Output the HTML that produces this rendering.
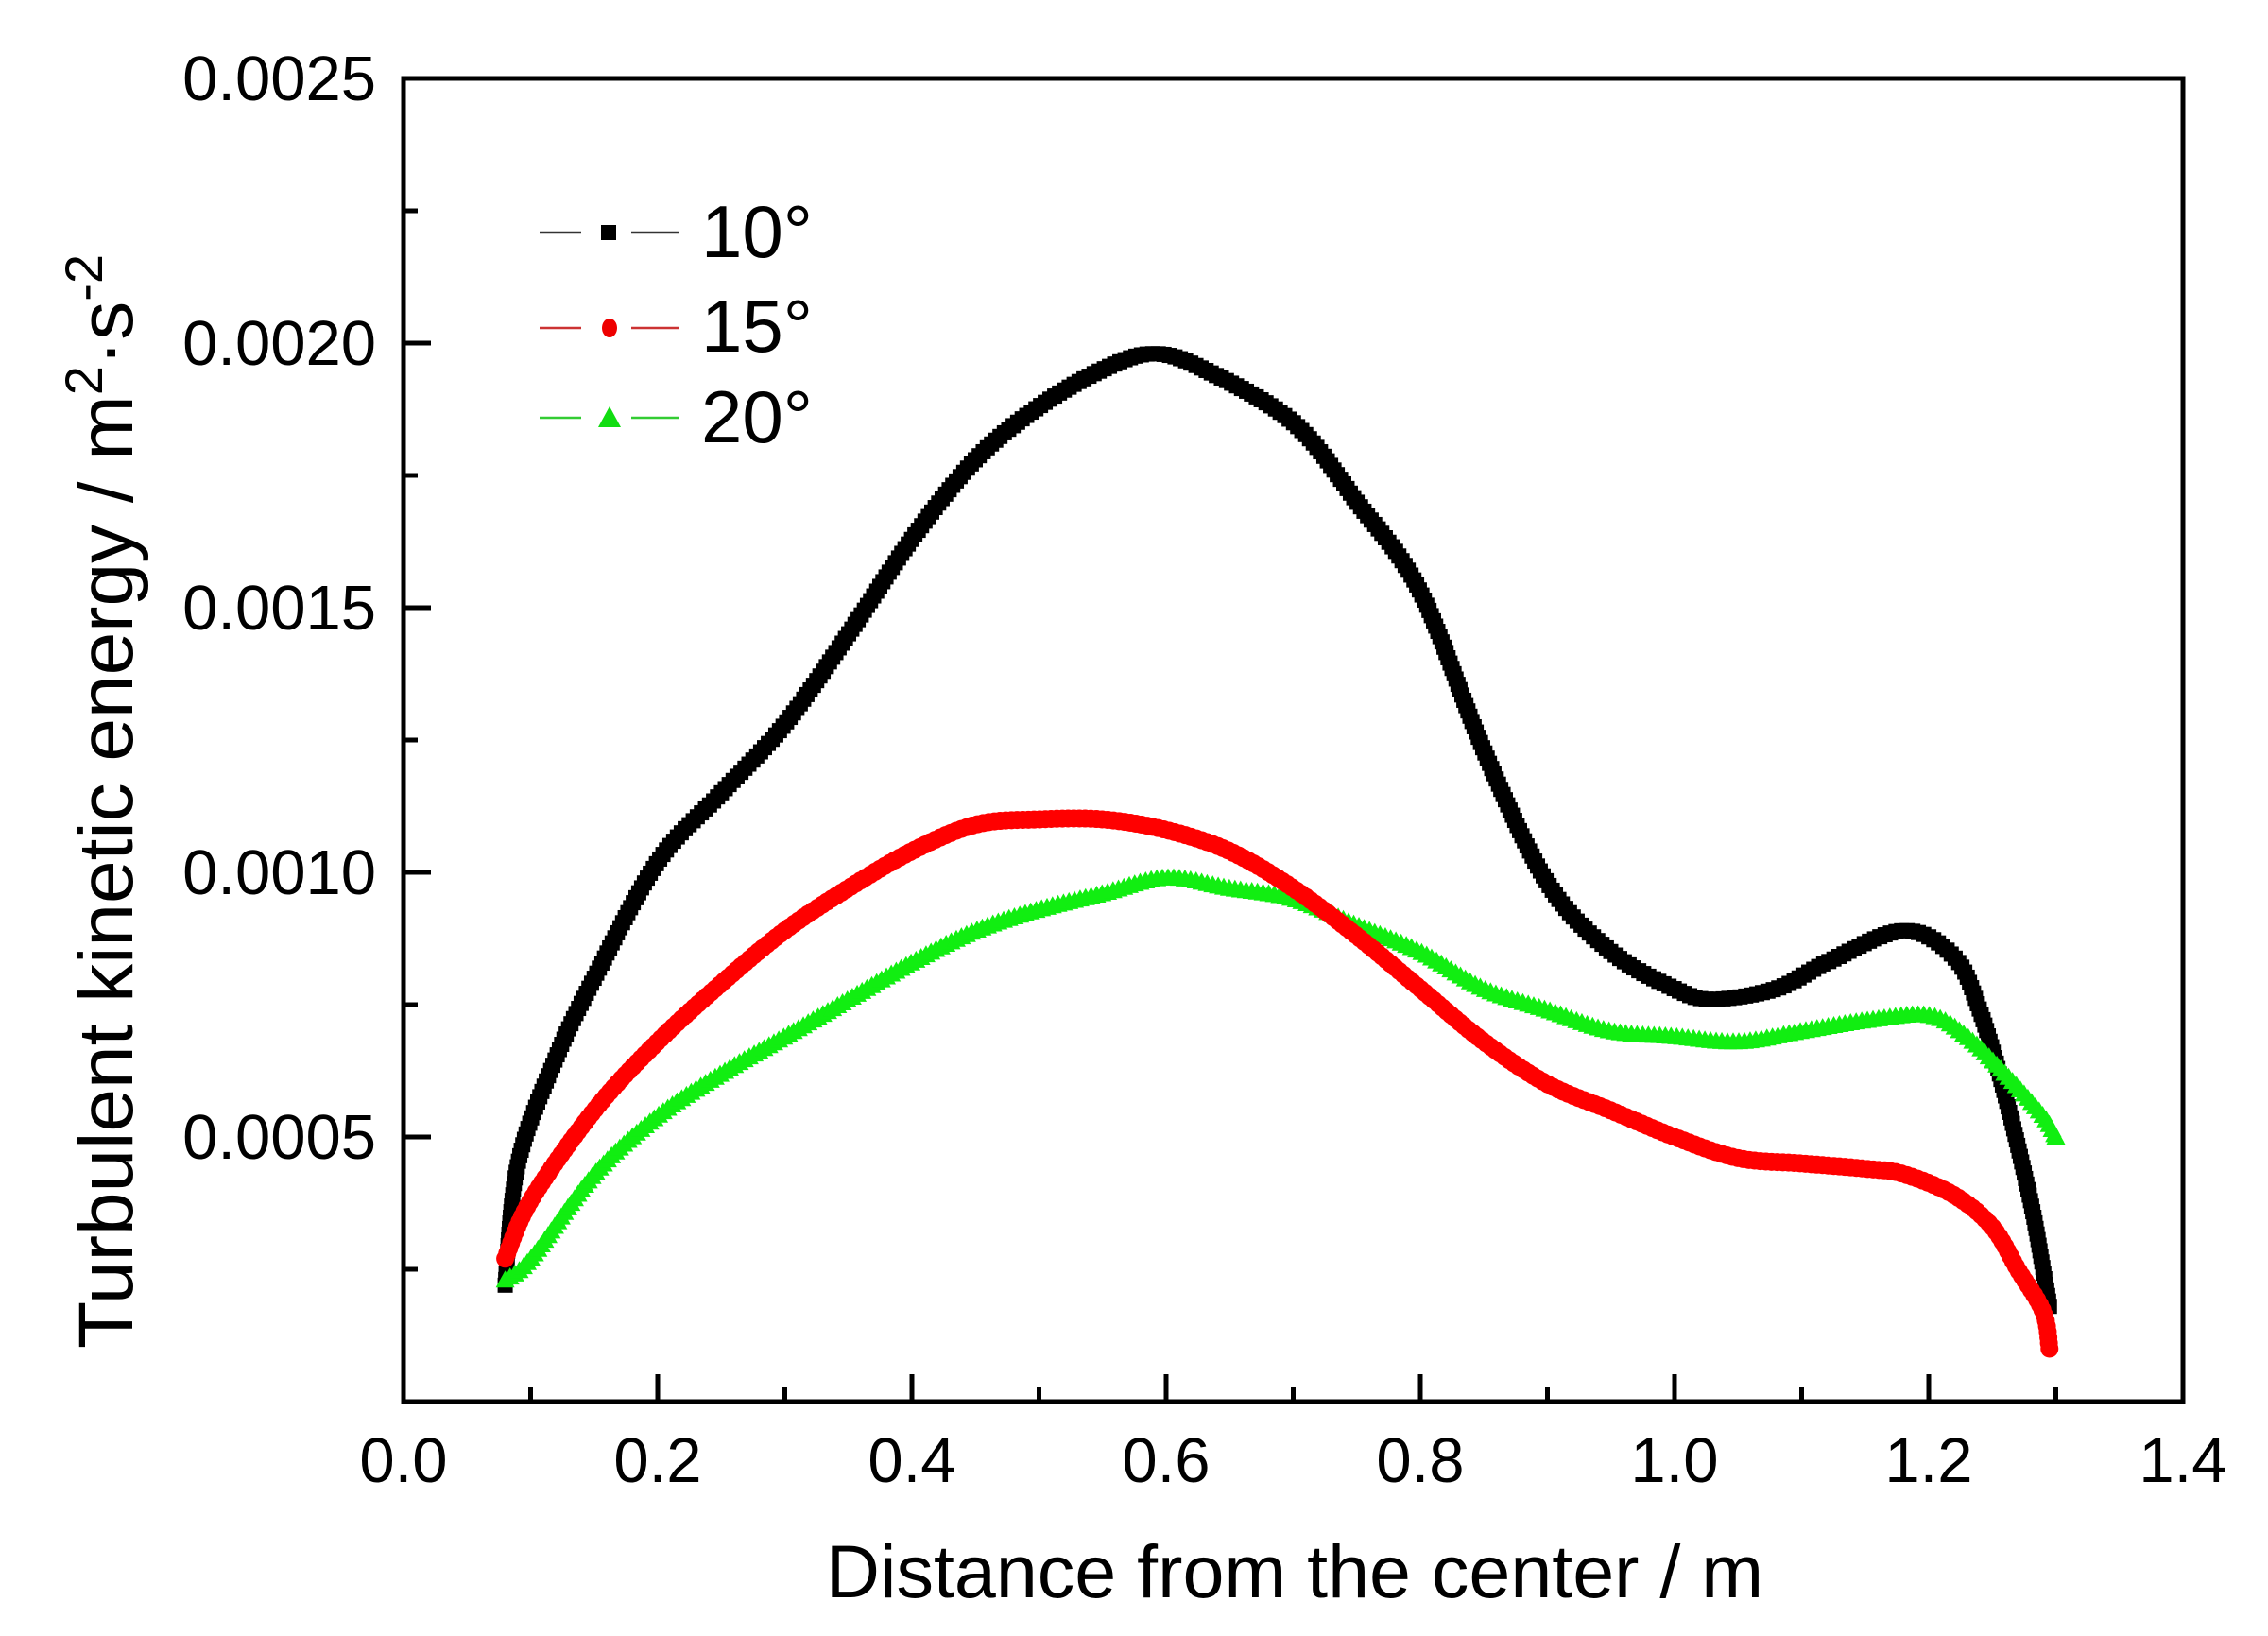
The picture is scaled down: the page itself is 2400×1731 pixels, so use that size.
<!DOCTYPE html>
<html><head><meta charset="utf-8">
<style>
html,body{margin:0;padding:0;background:#fff;}
svg{display:block;font-family:"Liberation Sans",Arial,sans-serif;}
</style></head>
<body>
<svg id="s" width="2400" height="1731" viewBox="0 0 2400 1731" xmlns="http://www.w3.org/2000/svg">
<rect width="2400" height="1731" fill="#fff"/>
<g id="data"></g>
<rect x="427" y="83" width="1883" height="1400" fill="none" stroke="#000" stroke-width="5"/>
<g id="ticks" stroke="#000" stroke-width="5"></g>
<g font-size="67" fill="#000" text-anchor="end">
<text x="398" y="106">0.0025</text>
<text x="398" y="386">0.0020</text>
<text x="398" y="666">0.0015</text>
<text x="398" y="946">0.0010</text>
<text x="398" y="1226">0.0005</text>
</g>
<g font-size="67" fill="#000" text-anchor="middle">
<text x="427" y="1568">0.0</text>
<text x="696" y="1568">0.2</text>
<text x="965" y="1568">0.4</text>
<text x="1234" y="1568">0.6</text>
<text x="1503" y="1568">0.8</text>
<text x="1772" y="1568">1.0</text>
<text x="2041" y="1568">1.2</text>
<text x="2310" y="1568">1.4</text>
</g>
<text x="1370" y="1690" font-size="79" text-anchor="middle">Distance from the center / m</text>
<text transform="translate(140,848) rotate(-90)" font-size="82" text-anchor="middle">Turbulent kinetic energy / m<tspan font-size="56" dy="-32">2</tspan><tspan dy="32">·s</tspan><tspan font-size="56" dy="-32">-2</tspan></text>
<g stroke-width="2.5">
<line x1="571" y1="246" x2="615" y2="246" stroke="#333"/><line x1="668" y1="246" x2="718" y2="246" stroke="#333"/>
<rect x="636" y="238" width="16" height="16" fill="#000"/>
<line x1="571" y1="347" x2="615" y2="347" stroke="#c33"/><line x1="668" y1="347" x2="718" y2="347" stroke="#c33"/>
<ellipse cx="645" cy="347" rx="8" ry="10" fill="#e00"/>
<line x1="571" y1="442" x2="615" y2="442" stroke="#3c3"/><line x1="668" y1="442" x2="718" y2="442" stroke="#3c3"/>
<polygon points="645,430 657,452 633,452" fill="#1d1"/>
</g>
<g font-size="78" fill="#000">
<text x="742" y="272">10°</text>
<text x="742" y="372">15°</text>
<text x="742" y="468">20°</text>
</g>
</svg>
<script>
var X=function(v){return 427+v/1.4*1883;}, Y=function(v){return 1483-v/0.0025*1400;};
var t=document.getElementById('ticks'),ns="http://www.w3.org/2000/svg";
function ln(x1,y1,x2,y2,p){var l=document.createElementNS(ns,'line');l.setAttribute('x1',x1);l.setAttribute('y1',y1);l.setAttribute('x2',x2);l.setAttribute('y2',y2);p.appendChild(l);}
for(var i=1;i<14;i++){var x=X(i*0.1);ln(x,1483,x,1483-(i%2?15:29),t);}
for(var j=1;j<10;j++){var y=Y(j*0.00025);ln(427,y,427+(j%2?15:29),y,t);}
var blk=[[0.08,0.00022],[0.09,0.00045],[0.12,0.00065],[0.15,0.0008],[0.2,0.00102],[0.25,0.00115],[0.3,0.00128],[0.35,0.00145],[0.4,0.00163],[0.45,0.00178],[0.5,0.00188],[0.55,0.00195],[0.59,0.00198],[0.63,0.00195],[0.7,0.00185],[0.75,0.0017],[0.8,0.00153],[0.85,0.00123],[0.9,0.00098],[0.95,0.00085],[1.0,0.00078],[1.03,0.00076],[1.08,0.00078],[1.12,0.00083],[1.18,0.00089],[1.22,0.00084],[1.24,0.00074],[1.26,0.00058],[1.28,0.00038],[1.29,0.00025],[1.295,0.00018]];
var red=[[0.08,0.00027],[0.1,0.00038],[0.15,0.00055],[0.2,0.00068],[0.25,0.00079],[0.3,0.00089],[0.35,0.00097],[0.4,0.00104],[0.45,0.00109],[0.5,0.0011],[0.55,0.0011],[0.6,0.00108],[0.65,0.00104],[0.7,0.00097],[0.75,0.00088],[0.8,0.00078],[0.85,0.00068],[0.9,0.0006],[0.95,0.00055],[1.0,0.0005],[1.05,0.00046],[1.1,0.00045],[1.15,0.00044],[1.18,0.00043],[1.22,0.00039],[1.25,0.00033],[1.27,0.00025],[1.29,0.00017],[1.295,0.0001]];
var grn=[[0.08,0.00023],[0.1,0.00027],[0.15,0.00043],[0.2,0.00054],[0.25,0.00062],[0.3,0.00069],[0.35,0.00076],[0.4,0.00083],[0.45,0.00089],[0.5,0.00093],[0.55,0.00096],[0.6,0.00099],[0.65,0.00097],[0.7,0.00095],[0.75,0.0009],[0.8,0.00085],[0.85,0.00078],[0.9,0.00074],[0.95,0.0007],[1.0,0.00069],[1.05,0.00068],[1.1,0.0007],[1.15,0.00072],[1.2,0.00073],[1.23,0.00069],[1.26,0.00062],[1.29,0.00054],[1.3,0.0005]];
var g=document.getElementById('data'),h='';
function smooth(p){var out=[];for(var k=0;k<p.length-1;k++){var p0=p[Math.max(0,k-1)],p1=p[k],p2=p[k+1],p3=p[Math.min(p.length-1,k+2)];
 for(var s=0;s<10;s++){var u=s/10,u2=u*u,u3=u2*u;var f=function(a,b,c,d){return 0.5*((2*b)+(-a+c)*u+(2*a-5*b+4*c-d)*u2+(-a+3*b-3*c+d)*u3);};
 out.push([f(p0[0],p1[0],p2[0],p3[0]),f(p0[1],p1[1],p2[1],p3[1])]);}}
 out.push(p[p.length-1]);return out;}
function mk(type,x,y){
 if(type==0)return '<rect x="'+(x-8)+'" y="'+(y-8)+'" width="16" height="16" fill="#000"/>';
 if(type==1)return '<circle cx="'+x+'" cy="'+y+'" r="9.5" fill="#f00"/>';
 return '<polygon points="'+x+','+(y-10)+' '+(x+10)+','+(y+8)+' '+(x-10)+','+(y+8)+'" fill="#1e1"/>';}
function draw(d,type,col){
 var raw=[];for(var k=0;k<d.length;k++)raw.push([X(d[k][0]),Y(d[k][1])]);
 var pts=smooth(raw);
 var s='M'+pts.map(function(p){return p[0].toFixed(1)+','+p[1].toFixed(1)}).join('L');
 h+='<path d="'+s+'" fill="none" stroke="'+col+'" stroke-width="2"/>';
 var acc=0;h+=mk(type,pts[0][0],pts[0][1]);
 for(var k=0;k<pts.length-1;k++){var a=pts[k],b=pts[k+1],dx=b[0]-a[0],dy=b[1]-a[1],L=Math.sqrt(dx*dx+dy*dy);
  var pos=6-acc;while(pos<=L){h+=mk(type,a[0]+dx*pos/L,a[1]+dy*pos/L);pos+=6;}acc=L-(pos-6);}
 var e=pts[pts.length-1];h+=mk(type,e[0],e[1]);
}
draw(blk,0,'#000');draw(grn,2,'#1e1');draw(red,1,'#f00');
g.innerHTML=h;
</script>
</body></html>
